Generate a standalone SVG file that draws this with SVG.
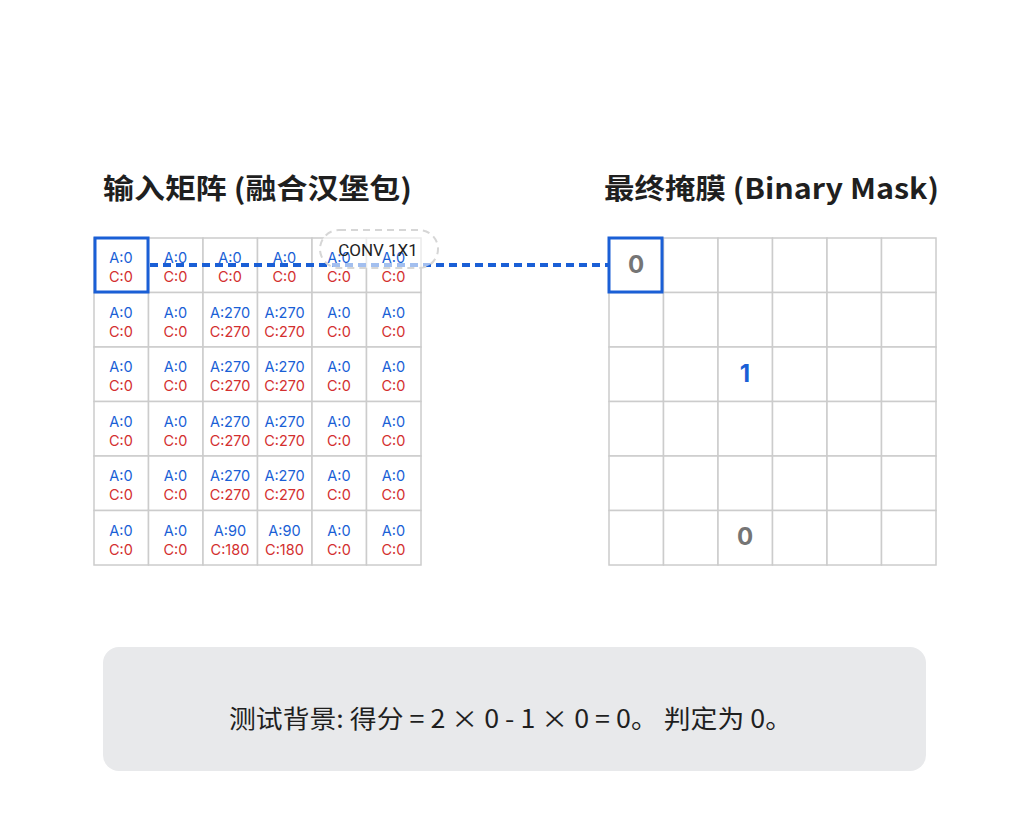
<svg xmlns="http://www.w3.org/2000/svg" width="1028" height="828" viewBox="0 0 1028 828">
<style>
.title{font-family:"Noto Sans CJK SC","Noto Sans",sans-serif;font-weight:700;font-size:28px;fill:#1f1f1f}
.cell{fill:#fff;stroke:#cccccc;stroke-width:1.5}
.a{font-family:Inter,"Open Sans",sans-serif;font-size:14.5px;fill:#1a5fd6;text-anchor:middle}
.c{font-family:Inter,"Open Sans",sans-serif;font-size:14.5px;fill:#d32f2f;text-anchor:middle}
.num{font-family:Inter,Roboto,sans-serif;font-weight:700;font-size:24px;text-anchor:middle}
.hl{fill:none;stroke:#1a5fd6;stroke-width:3}
</style>
<rect width="1028" height="828" fill="#fff"/>
<text class="title" x="103" y="199" textLength="309" lengthAdjust="spacingAndGlyphs">输入矩阵 (融合汉堡包)</text>
<text class="title" x="604" y="199" textLength="335" lengthAdjust="spacingAndGlyphs">最终掩膜 (Binary Mask)</text>

<g id="input-matrix">
<g id="in-grid">
<rect class="cell" x="94" y="238" width="54.5" height="54.5"/><rect class="cell" x="148.5" y="238" width="54.5" height="54.5"/><rect class="cell" x="203" y="238" width="54.5" height="54.5"/><rect class="cell" x="257.5" y="238" width="54.5" height="54.5"/><rect class="cell" x="312" y="238" width="54.5" height="54.5"/><rect class="cell" x="366.5" y="238" width="54.5" height="54.5"/>
<rect class="cell" x="94" y="292.5" width="54.5" height="54.5"/><rect class="cell" x="148.5" y="292.5" width="54.5" height="54.5"/><rect class="cell" x="203" y="292.5" width="54.5" height="54.5"/><rect class="cell" x="257.5" y="292.5" width="54.5" height="54.5"/><rect class="cell" x="312" y="292.5" width="54.5" height="54.5"/><rect class="cell" x="366.5" y="292.5" width="54.5" height="54.5"/>
<rect class="cell" x="94" y="347" width="54.5" height="54.5"/><rect class="cell" x="148.5" y="347" width="54.5" height="54.5"/><rect class="cell" x="203" y="347" width="54.5" height="54.5"/><rect class="cell" x="257.5" y="347" width="54.5" height="54.5"/><rect class="cell" x="312" y="347" width="54.5" height="54.5"/><rect class="cell" x="366.5" y="347" width="54.5" height="54.5"/>
<rect class="cell" x="94" y="401.5" width="54.5" height="54.5"/><rect class="cell" x="148.5" y="401.5" width="54.5" height="54.5"/><rect class="cell" x="203" y="401.5" width="54.5" height="54.5"/><rect class="cell" x="257.5" y="401.5" width="54.5" height="54.5"/><rect class="cell" x="312" y="401.5" width="54.5" height="54.5"/><rect class="cell" x="366.5" y="401.5" width="54.5" height="54.5"/>
<rect class="cell" x="94" y="456" width="54.5" height="54.5"/><rect class="cell" x="148.5" y="456" width="54.5" height="54.5"/><rect class="cell" x="203" y="456" width="54.5" height="54.5"/><rect class="cell" x="257.5" y="456" width="54.5" height="54.5"/><rect class="cell" x="312" y="456" width="54.5" height="54.5"/><rect class="cell" x="366.5" y="456" width="54.5" height="54.5"/>
<rect class="cell" x="94" y="510.5" width="54.5" height="54.5"/><rect class="cell" x="148.5" y="510.5" width="54.5" height="54.5"/><rect class="cell" x="203" y="510.5" width="54.5" height="54.5"/><rect class="cell" x="257.5" y="510.5" width="54.5" height="54.5"/><rect class="cell" x="312" y="510.5" width="54.5" height="54.5"/><rect class="cell" x="366.5" y="510.5" width="54.5" height="54.5"/>
</g>
<rect id="in-highlight" class="hl" x="95" y="238" width="53" height="54"/>
</g>

<g id="output-mask">
<g id="out-grid">
<rect class="cell" x="609" y="238" width="54.5" height="54.5"/><rect class="cell" x="663.5" y="238" width="54.5" height="54.5"/><rect class="cell" x="718" y="238" width="54.5" height="54.5"/><rect class="cell" x="772.5" y="238" width="54.5" height="54.5"/><rect class="cell" x="827" y="238" width="54.5" height="54.5"/><rect class="cell" x="881.5" y="238" width="54.5" height="54.5"/>
<rect class="cell" x="609" y="292.5" width="54.5" height="54.5"/><rect class="cell" x="663.5" y="292.5" width="54.5" height="54.5"/><rect class="cell" x="718" y="292.5" width="54.5" height="54.5"/><rect class="cell" x="772.5" y="292.5" width="54.5" height="54.5"/><rect class="cell" x="827" y="292.5" width="54.5" height="54.5"/><rect class="cell" x="881.5" y="292.5" width="54.5" height="54.5"/>
<rect class="cell" x="609" y="347" width="54.5" height="54.5"/><rect class="cell" x="663.5" y="347" width="54.5" height="54.5"/><rect class="cell" x="718" y="347" width="54.5" height="54.5"/><rect class="cell" x="772.5" y="347" width="54.5" height="54.5"/><rect class="cell" x="827" y="347" width="54.5" height="54.5"/><rect class="cell" x="881.5" y="347" width="54.5" height="54.5"/>
<rect class="cell" x="609" y="401.5" width="54.5" height="54.5"/><rect class="cell" x="663.5" y="401.5" width="54.5" height="54.5"/><rect class="cell" x="718" y="401.5" width="54.5" height="54.5"/><rect class="cell" x="772.5" y="401.5" width="54.5" height="54.5"/><rect class="cell" x="827" y="401.5" width="54.5" height="54.5"/><rect class="cell" x="881.5" y="401.5" width="54.5" height="54.5"/>
<rect class="cell" x="609" y="456" width="54.5" height="54.5"/><rect class="cell" x="663.5" y="456" width="54.5" height="54.5"/><rect class="cell" x="718" y="456" width="54.5" height="54.5"/><rect class="cell" x="772.5" y="456" width="54.5" height="54.5"/><rect class="cell" x="827" y="456" width="54.5" height="54.5"/><rect class="cell" x="881.5" y="456" width="54.5" height="54.5"/>
<rect class="cell" x="609" y="510.5" width="54.5" height="54.5"/><rect class="cell" x="663.5" y="510.5" width="54.5" height="54.5"/><rect class="cell" x="718" y="510.5" width="54.5" height="54.5"/><rect class="cell" x="772.5" y="510.5" width="54.5" height="54.5"/><rect class="cell" x="827" y="510.5" width="54.5" height="54.5"/><rect class="cell" x="881.5" y="510.5" width="54.5" height="54.5"/>
</g>
<text class="num" x="636" y="273" fill="#757575">0</text>
<text class="num" x="745" y="382" fill="#1a5fd6">1</text>
<text class="num" x="745" y="545" fill="#757575">0</text>
<rect id="out-highlight" class="hl" x="609" y="238" width="53" height="54"/>
</g>

<g id="connectors">
<line x1="150" y1="265" x2="608" y2="265" stroke="#1a5fd6" stroke-width="4" stroke-dasharray="8 5"/>
</g>

<rect id="conv-label-box" x="320" y="230" width="118" height="38" rx="19" fill="#ffffff" fill-opacity="0.6" stroke="#d6d6d6" stroke-width="2" stroke-dasharray="7 5"/>

<g id="input-values">
<text class="a" x="121" y="263">A:0</text><text class="c" x="121" y="282">C:0</text>
<text class="a" x="175.5" y="263">A:0</text><text class="c" x="175.5" y="282">C:0</text>
<text class="a" x="230" y="263">A:0</text><text class="c" x="230" y="282">C:0</text>
<text class="a" x="284.5" y="263">A:0</text><text class="c" x="284.5" y="282">C:0</text>
<text class="a" x="339" y="263">A:0</text><text class="c" x="339" y="282">C:0</text>
<text class="a" x="393.5" y="263">A:0</text><text class="c" x="393.5" y="282">C:0</text>

<text class="a" x="121" y="318">A:0</text><text class="c" x="121" y="337">C:0</text>
<text class="a" x="175.5" y="318">A:0</text><text class="c" x="175.5" y="337">C:0</text>
<text class="a" x="230" y="318">A:270</text><text class="c" x="230" y="337">C:270</text>
<text class="a" x="284.5" y="318">A:270</text><text class="c" x="284.5" y="337">C:270</text>
<text class="a" x="339" y="318">A:0</text><text class="c" x="339" y="337">C:0</text>
<text class="a" x="393.5" y="318">A:0</text><text class="c" x="393.5" y="337">C:0</text>

<text class="a" x="121" y="372">A:0</text><text class="c" x="121" y="391">C:0</text>
<text class="a" x="175.5" y="372">A:0</text><text class="c" x="175.5" y="391">C:0</text>
<text class="a" x="230" y="372">A:270</text><text class="c" x="230" y="391">C:270</text>
<text class="a" x="284.5" y="372">A:270</text><text class="c" x="284.5" y="391">C:270</text>
<text class="a" x="339" y="372">A:0</text><text class="c" x="339" y="391">C:0</text>
<text class="a" x="393.5" y="372">A:0</text><text class="c" x="393.5" y="391">C:0</text>

<text class="a" x="121" y="427">A:0</text><text class="c" x="121" y="446">C:0</text>
<text class="a" x="175.5" y="427">A:0</text><text class="c" x="175.5" y="446">C:0</text>
<text class="a" x="230" y="427">A:270</text><text class="c" x="230" y="446">C:270</text>
<text class="a" x="284.5" y="427">A:270</text><text class="c" x="284.5" y="446">C:270</text>
<text class="a" x="339" y="427">A:0</text><text class="c" x="339" y="446">C:0</text>
<text class="a" x="393.5" y="427">A:0</text><text class="c" x="393.5" y="446">C:0</text>

<text class="a" x="121" y="481">A:0</text><text class="c" x="121" y="500">C:0</text>
<text class="a" x="175.5" y="481">A:0</text><text class="c" x="175.5" y="500">C:0</text>
<text class="a" x="230" y="481">A:270</text><text class="c" x="230" y="500">C:270</text>
<text class="a" x="284.5" y="481">A:270</text><text class="c" x="284.5" y="500">C:270</text>
<text class="a" x="339" y="481">A:0</text><text class="c" x="339" y="500">C:0</text>
<text class="a" x="393.5" y="481">A:0</text><text class="c" x="393.5" y="500">C:0</text>

<text class="a" x="121" y="536">A:0</text><text class="c" x="121" y="555">C:0</text>
<text class="a" x="175.5" y="536">A:0</text><text class="c" x="175.5" y="555">C:0</text>
<text class="a" x="230" y="536">A:90</text><text class="c" x="230" y="555">C:180</text>
<text class="a" x="284.5" y="536">A:90</text><text class="c" x="284.5" y="555">C:180</text>
<text class="a" x="339" y="536">A:0</text><text class="c" x="339" y="555">C:0</text>
<text class="a" x="393.5" y="536">A:0</text><text class="c" x="393.5" y="555">C:0</text>
</g>

<g id="conv-label">
<text x="378" y="256" font-family="Roboto,'Noto Sans',sans-serif" font-size="17" fill="#1f1f1f" text-anchor="middle">CONV 1X1</text>
</g>

<g id="note">
<rect x="103" y="647" width="823" height="124" rx="16" fill="#e8e9eb"/>
<text x="229" y="728" font-family="'Noto Sans CJK SC','Noto Sans',sans-serif" font-size="25" fill="#1f1f1f" textLength="563" lengthAdjust="spacingAndGlyphs">测试背景: 得分 = 2 × 0 - 1 × 0 = 0。 判定为 0。</text>
</g>
</svg>
